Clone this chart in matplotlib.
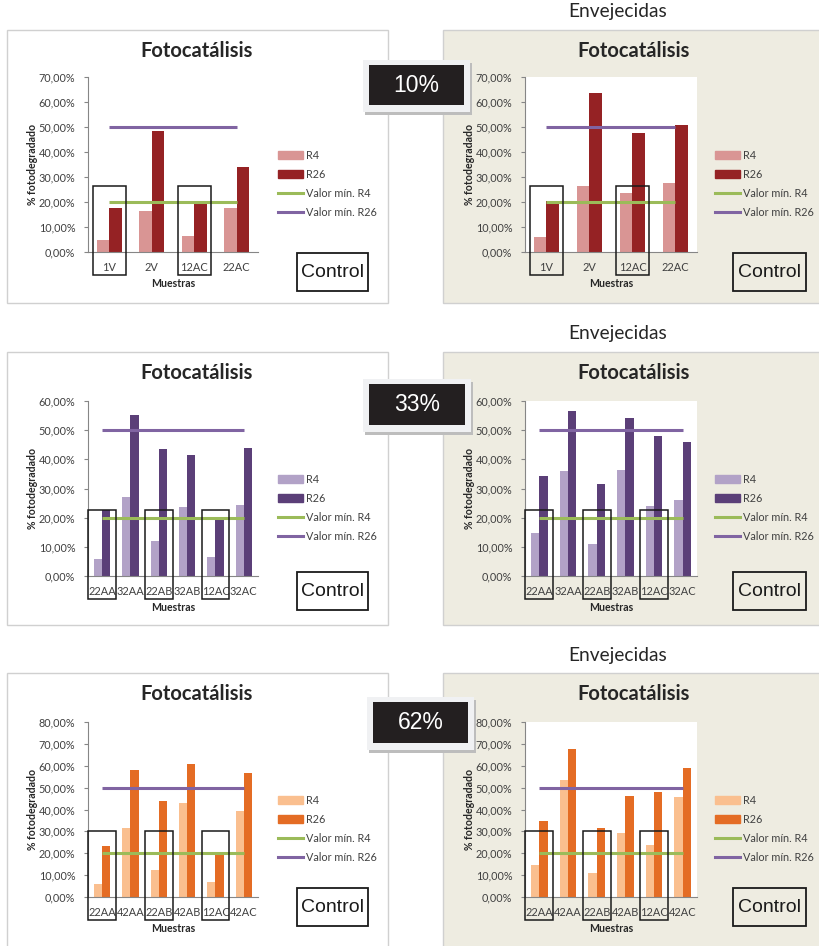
import matplotlib
matplotlib.use("Agg")
import matplotlib.pyplot as plt
from matplotlib.patches import Rectangle
from matplotlib.lines import Line2D
from matplotlib.ticker import FuncFormatter, MultipleLocator

# ---------------- data ----------------
cats_10 = ["1V", "2V", "12AC", "22AC"]
r4_10 = [4.7, 16.4, 6.4, 17.7]
r26_10 = [17.7, 48.3, 19.7, 34.0]
r4_10_env = [6.0, 26.3, 23.6, 27.6]
r26_10_env = [20.2, 63.7, 47.7, 50.7]

cats_33 = ["22AA", "32AA", "22AB", "32AB", "12AC", "32AC"]
r4_33 = [5.9, 27.1, 12.0, 23.7, 6.6, 24.3]
r26_33 = [22.6, 55.2, 43.4, 41.5, 20.0, 43.8]
r4_33_env = [14.6, 35.9, 11.0, 36.2, 24.0, 25.9]
r26_33_env = [34.4, 56.5, 31.7, 54.1, 48.1, 46.1]

cats_62 = ["22AA", "42AA", "22AB", "42AB", "12AC", "42AC"]
r4_62 = [6.1, 31.7, 12.2, 43.1, 6.9, 39.4]
r26_62 = [23.2, 58.1, 43.9, 60.7, 20.2, 56.9]
r4_62_env = [14.5, 53.7, 11.1, 29.1, 23.8, 45.6]
r26_62_env = [34.6, 67.8, 31.7, 46.2, 47.9, 59.0]

valor_min_r4 = 20
valor_min_r26 = 50

controls_10 = ["1V", "12AC"]
controls_other = ["22AA", "22AB", "12AC"]

ymax = [70, 60, 80]
row_labels = ["10%", "33%", "62%"]

# ---------------- style ----------------
W, H = 820, 946
FONT = "Lato"
GREEN = "#9BBB59"
PURPLE = "#8064A2"
BEIGE = "#EEECE1"
TXT = "#404040"
palettes = [("#D99594", "#952224"), ("#B2A2C7", "#5B3F78"), ("#FABF8F", "#E46C24")]

fig = plt.figure(figsize=(W / 100, H / 100), dpi=100)
fig.patch.set_facecolor("white")


def px_rect(l, t, r, b):
    return [l / W, 1 - b / H, (r - l) / W, (b - t) / H]


def fig_rect(l, t, r, b, **kw):
    rect = Rectangle((l / W, 1 - b / H), (r - l) / W, (b - t) / H,
                     transform=fig.transFigure, **kw)
    fig.add_artist(rect)
    return rect


pct_fmt = FuncFormatter(lambda v, p: f"{v:.2f}%".replace(".", ","))

row_tops = [30, 352, 673]
axes_tops = [77, 401, 722]
panel_x = [(7, 388), (443, 830)]
axes_x = [(88, 258), (525, 697)]
title_x = [197, 634]
box_tops = [26.5, 22.7, 30.3]
box_frac = [0.77, 0.97, 0.97]
ctrl_tops = [253, 572, 888]
label_boxes = [(363, 60, 470, 112), (363, 379, 471, 432), (367, 697, 474, 750)]

rows = [
    (cats_10, [(r4_10, r26_10), (r4_10_env, r26_10_env)], controls_10),
    (cats_33, [(r4_33, r26_33), (r4_33_env, r26_33_env)], controls_other),
    (cats_62, [(r4_62, r26_62), (r4_62_env, r26_62_env)], controls_other),
]

for ri, (cats, series, controls) in enumerate(rows):
    c4, c26 = palettes[ri]
    top = row_tops[ri]
    atop = axes_tops[ri]
    abot = atop + 175
    for side in range(2):
        pl, pr = panel_x[side]
        # panel background and border
        fig_rect(pl, top, pr, top + 273 if ri < 2 else top + 300,
                 facecolor=BEIGE if side == 1 else "white",
                 edgecolor="#D0D0D0", lw=1.0, zorder=-2)
        if side == 1:
            fig.text(618 / W, 1 - (top - 18) / H, "Envejecidas",
                     ha="center", va="center", fontsize=13.8, family=FONT,
                     color="#262626")

        fig.text(title_x[side] / W, 1 - (top + 21) / H, "Fotocatálisis",
                 ha="center", va="center", fontsize=14.5, fontweight="bold",
                 family=FONT, color="#262626")

        al, ar = axes_x[side]
        ax = fig.add_axes(px_rect(al, atop, ar, abot))
        ax.set_facecolor("white")
        r4, r26 = series[side]
        n = len(cats)
        x = list(range(n))
        bw = 0.29
        ax.bar([i - bw / 2 for i in x], r4, width=bw, color=c4, zorder=2)
        ax.bar([i + bw / 2 for i in x], r26, width=bw, color=c26, zorder=2)
        ax.plot([0, n - 1], [valor_min_r4] * 2, color=GREEN, lw=2.2, zorder=3,
                solid_capstyle="butt")
        ax.plot([0, n - 1], [valor_min_r26] * 2, color=PURPLE, lw=2.2, zorder=3,
                solid_capstyle="butt")
        ax.set_xlim(-0.5, n - 0.5)
        ax.set_ylim(0, ymax[ri])
        ax.yaxis.set_major_locator(MultipleLocator(10))
        ax.yaxis.set_major_formatter(pct_fmt)
        ax.set_xticks(x)
        ax.set_xticklabels(cats)
        for s in ("top", "right"):
            ax.spines[s].set_visible(False)
        for s in ("left", "bottom"):
            ax.spines[s].set_color("#868686")
            ax.spines[s].set_linewidth(0.8)
        ax.tick_params(axis="y", length=3, width=0.8, color="#868686", pad=6,
                       labelsize=7.8, labelcolor=TXT)
        ax.tick_params(axis="x", length=0, pad=7.5, labelsize=7.9, labelcolor=TXT)
        for lab in ax.get_xticklabels() + ax.get_yticklabels():
            lab.set_family(FONT)
        ax.set_xlabel("Muestras", fontsize=7.6, fontweight="bold", family=FONT,
                      color="#262626", labelpad=3.5)
        ax.set_ylabel("% fotodegradado", fontsize=7.6, fontweight="bold",
                      family=FONT, color="#262626", labelpad=0.5)

        # frames around the control samples
        ybot = -ymax[ri] * 23.0 / 175
        bwid = box_frac[ri]
        for c in controls:
            i = cats.index(c)
            ax.add_patch(Rectangle((i - bwid / 2, ybot), bwid, box_tops[ri] - ybot,
                                   fill=False, edgecolor="#1a1a1a", lw=1.1,
                                   clip_on=False, zorder=6))

        # legend
        handles = [
            Rectangle((0, 0), 1, 1, color=c4),
            Rectangle((0, 0), 1, 1, color=c26),
            Line2D([], [], color=GREEN, lw=2.2),
            Line2D([], [], color=PURPLE, lw=2.2),
        ]
        labels = ["R4", "R26", "Valor mín. R4", "Valor mín. R26"]
        lx = ar + (20 if side == 0 else 18)
        ly = atop + 107
        leg = ax.legend(handles, labels, loc="center left",
                        bbox_to_anchor=(lx / W, 1 - ly / H),
                        bbox_transform=fig.transFigure, frameon=False,
                        prop={"family": FONT, "size": 7.8},
                        handlelength=2.3, handleheight=0.75, handletextpad=0.3,
                        labelspacing=0.75, borderpad=0, borderaxespad=0)
        for t in leg.get_texts():
            t.set_color(TXT)

        # "Control" box
        cl, cr = (297, 368) if side == 0 else (733, 806)
        ct = ctrl_tops[ri]
        fig_rect(cl, ct, cr, ct + 38, fill=False, edgecolor="#1a1a1a", lw=1.3,
                 zorder=5)
        fig.text((cl + cr) / 2 / W, 1 - (ct + 19.5) / H, "Control",
                 ha="center", va="center", fontsize=14, family="Liberation Sans",
                 color="#1a1a1a", zorder=6)

    # percentage label between the two panels
    l, t, r, b = label_boxes[ri]
    fig_rect(l + 2, t + 3, r + 2, b + 3, facecolor="#BDBDBD", edgecolor="none",
             zorder=7)
    fig_rect(l, t, r, b, facecolor="#F0F1F3", edgecolor="none", zorder=8)
    fig_rect(l + 6, t + 5, r - 6, b - 7, facecolor="#231F20", edgecolor="none",
             zorder=9)
    fig.text((l + r) / 2 / W, 1 - ((t + 5 + b - 7) / 2) / H, row_labels[ri],
             ha="center", va="center", fontsize=16.5, family="Liberation Sans",
             color="white", zorder=10)

fig.savefig("out.png", dpi=100)
